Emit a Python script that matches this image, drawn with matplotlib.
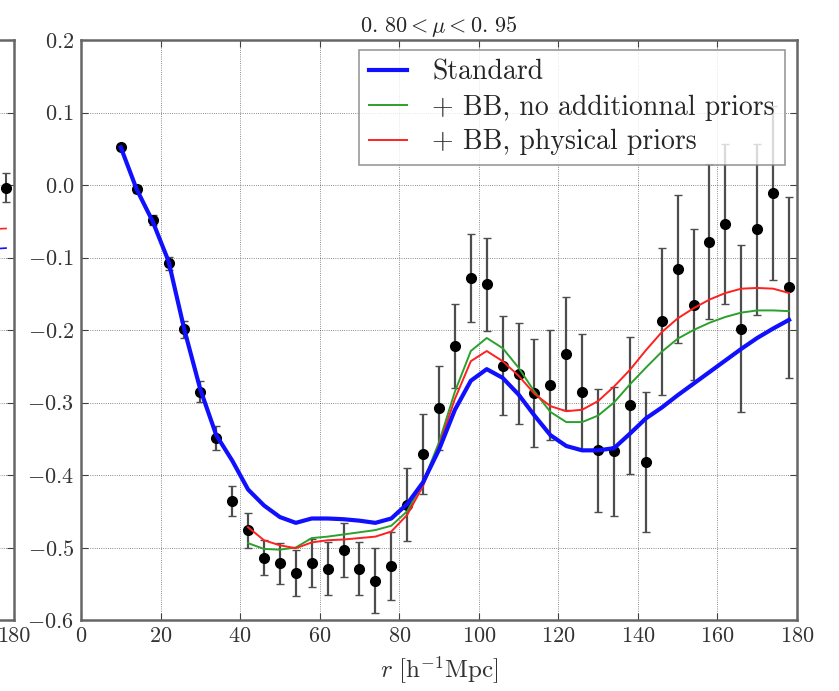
import numpy as np
import matplotlib
matplotlib.use("Agg")
import matplotlib.pyplot as plt

plt.rcParams['font.family'] = ['cmr10', 'DejaVu Serif']
plt.rcParams['mathtext.fontset'] = 'cm'
plt.rcParams['axes.formatter.use_mathtext'] = True
plt.rcParams['axes.unicode_minus'] = True

# ---- data ----
r_data = [10, 14, 18, 22, 26, 30, 34, 38, 42, 46, 50, 54, 58, 62, 66, 70, 74, 78,
          82, 86, 90, 94, 98, 102, 106, 110, 114, 118, 122, 126, 130, 134, 138,
          142, 146, 150, 154, 158, 162, 166, 170, 174, 178]
y_data = [0.052, -0.006, -0.048, -0.108, -0.199, -0.285, -0.349, -0.436, -0.476,
          -0.514, -0.522, -0.535, -0.521, -0.529, -0.503, -0.529, -0.546, -0.526,
          -0.441, -0.371, -0.307, -0.222, -0.128, -0.137, -0.249, -0.260, -0.287,
          -0.276, -0.233, -0.286, -0.366, -0.367, -0.304, -0.382, -0.188, -0.116,
          -0.165, -0.078, -0.054, -0.198, -0.061, -0.011, -0.141]
y_err = [0.004, 0.005, 0.007, 0.009, 0.012, 0.014, 0.017, 0.021, 0.024, 0.024,
         0.028, 0.032, 0.033, 0.036, 0.037, 0.037, 0.045, 0.047, 0.050, 0.055,
         0.058, 0.058, 0.061, 0.064, 0.068, 0.070, 0.075, 0.076, 0.078, 0.080,
         0.085, 0.089, 0.094, 0.097, 0.101, 0.102, 0.104, 0.107, 0.110, 0.115,
         0.118, 0.120, 0.125]

r_std = [10, 14, 18, 22, 26, 30, 34, 38, 42, 46, 50, 54, 58, 62, 66, 70, 74, 78,
         82, 86, 90, 94, 98, 102, 106, 110, 114, 118, 122, 126, 130, 134, 138,
         142, 146, 150, 154, 158, 162, 166, 170, 174, 178]
y_std = [0.052, -0.006, -0.050, -0.105, -0.200, -0.282, -0.345, -0.380, -0.420,
         -0.442, -0.458, -0.466, -0.460, -0.460, -0.461, -0.463, -0.466, -0.460,
         -0.440, -0.410, -0.365, -0.310, -0.270, -0.254, -0.266, -0.289, -0.318,
         -0.345, -0.360, -0.366, -0.366, -0.363, -0.343, -0.322, -0.307, -0.290,
         -0.274, -0.258, -0.242, -0.226, -0.211, -0.198, -0.186]

r_bb = [42, 46, 50, 54, 58, 62, 66, 70, 74, 78, 82, 86, 90, 94, 98, 102, 106,
        110, 114, 118, 122, 126, 130, 134, 138, 142, 146, 150, 154, 158, 162,
        166, 170, 174, 178]
y_bb_free = [-0.494, -0.502, -0.503, -0.500, -0.487, -0.485, -0.482, -0.479,
             -0.476, -0.470, -0.450, -0.410, -0.355, -0.285, -0.229, -0.211,
             -0.225, -0.252, -0.285, -0.313, -0.327, -0.327, -0.318, -0.300,
             -0.275, -0.252, -0.230, -0.212, -0.200, -0.190, -0.182, -0.176,
             -0.173, -0.173, -0.174]
y_bb_phys = [-0.472, -0.490, -0.497, -0.501, -0.493, -0.490, -0.489, -0.487,
             -0.485, -0.478, -0.455, -0.415, -0.360, -0.295, -0.243, -0.229,
             -0.243, -0.263, -0.288, -0.305, -0.312, -0.310, -0.298, -0.278,
             -0.255, -0.228, -0.203, -0.184, -0.170, -0.158, -0.149, -0.143,
             -0.142, -0.143, -0.149]

labels = ['Standard', '+ BB, no additionnal priors', '+ BB, physical priors']
x_ticks = [0, 20, 40, 60, 80, 100, 120, 140, 160, 180]
y_ticks = [0.2, 0.1, 0.0, -0.1, -0.2, -0.3, -0.4, -0.5, -0.6]

# neighbouring panel (only its right edge is visible)
r_left = [178]
y_left = [-0.004]
e_left = [0.02]
r_left_line = [170, 178]
y_left_std = [-0.090, -0.087]
y_left_phys = [-0.062, -0.060]

W, H = 839, 691
fig = plt.figure(figsize=(W / 100, H / 100), dpi=100)

ax_l = (81 / W, 1 - 620 / H)
aw = (797 - 81) / W
ah = (620 - 40) / H


def style(ax):
    ax.set_xlim(0, 180)
    ax.set_ylim(-0.6, 0.2)
    ax.set_xticks(x_ticks)
    ax.set_yticks(y_ticks)
    ax.grid(True, color='k', linestyle=':', linewidth=0.6, alpha=0.6)
    ax.tick_params(direction='in', top=True, right=True, length=5,
                   labelsize=16, colors='0.25', labelcolor='0.2', pad=5)
    for s in ax.spines.values():
        s.set_color('0.4')
        s.set_linewidth(1.8)


# left partial panel
axL = fig.add_axes([14 / W - aw, ax_l[1], aw, ah])
style(axL)
axL.errorbar(r_left, y_left, yerr=e_left, fmt='o', color='k', ms=7,
             ecolor='0.3', elinewidth=1.5, capsize=3, clip_on=False)
axL.plot(r_left_line, y_left_std, color='#1010ff', lw=1.2)
axL.plot(r_left_line, y_left_phys, color='#ff2020', lw=1.2)
axL.set_yticklabels([])
axL.set_xticklabels(['' for _ in x_ticks[:-1]] + ['180'])

ax = fig.add_axes([ax_l[0], ax_l[1], aw, ah])
style(ax)

ax.errorbar(r_data, y_data, yerr=y_err, fmt='o', color='k', ms=7,
            ecolor='0.3', elinewidth=1.6, capsize=3, zorder=2)
ax.plot(r_bb, y_bb_free, color='#2ca02c', lw=1.4, label=labels[1], zorder=3)
ax.plot(r_bb, y_bb_phys, color='#ff2020', lw=1.4, label=labels[2], zorder=3)
ax.plot(r_std, y_std, color='#1010ff', lw=3, label=labels[0], zorder=4)

h, l = ax.get_legend_handles_labels()
order = [2, 0, 1]
leg = ax.legend([h[i] for i in order], [l[i] for i in order], loc='upper right',
                fontsize=20, frameon=True, fancybox=False, handlelength=1.4,
                handletextpad=0.9, borderpad=0.35, labelspacing=0.3,
                borderaxespad=0.0, bbox_to_anchor=(0.983, 0.983))
leg.get_frame().set_edgecolor('0.5')
leg.get_frame().set_linewidth(1.2)
for t in leg.get_texts():
    t.set_color('0.15')

ax.set_title(r'$0.\,80 < \mu < 0.\,95$', fontsize=16, pad=6, color='0.15')
ax.set_xlabel(r'$r\ [\mathrm{h^{-1}Mpc}]$', fontsize=18, labelpad=6, color='0.2')

fig.savefig('out.png', dpi=100)
